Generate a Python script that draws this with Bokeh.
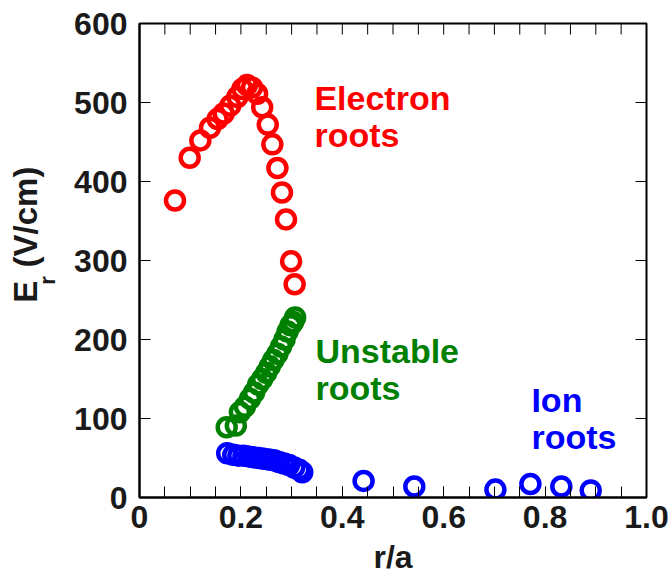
import math
from bokeh.plotting import figure
from bokeh.layouts import row
from bokeh.models import FixedTicker, Range1d
from bokeh.embed import file_html
from bokeh.resources import INLINE
from bokeh.core.properties import value

# ---- data ----
electron_x = [0.070, 0.099, 0.120, 0.139, 0.154, 0.166, 0.179, 0.193, 0.203, 0.212,
              0.222, 0.232, 0.242, 0.253, 0.262, 0.272, 0.281, 0.289, 0.299, 0.306]
electron_y = [376, 430, 452, 468, 479, 486, 496, 507, 517, 522,
              519, 511, 494, 472, 447, 417, 386, 352, 299, 270]

unstable_x = [0.172, 0.190, 0.198, 0.208, 0.218, 0.226, 0.234, 0.242, 0.250, 0.257,
              0.264, 0.272, 0.279, 0.286, 0.292, 0.298, 0.303, 0.307]
unstable_y = [89, 91, 108, 115, 125, 133, 143, 150, 158, 166,
              174, 182, 191, 200, 210, 218, 222, 228]

ion_x = [0.173, 0.185, 0.195, 0.205, 0.215, 0.225, 0.235, 0.245, 0.255, 0.265,
         0.275, 0.285, 0.295, 0.305, 0.315, 0.321,
         0.442, 0.542, 0.702, 0.771, 0.832, 0.890]
ion_y = [56, 54, 53, 53, 52, 51, 50, 49, 48, 47,
         45, 43, 41, 38, 35, 32,
         21, 14, 10, 17, 14, 9]

x_ticks = [0, 0.2, 0.4, 0.6, 0.8, 1.0]
x_minor = [i * 0.05 for i in range(21)]
y_ticks = [0, 100, 200, 300, 400, 500, 600]

labels_text = ["Electron", "roots", "Unstable", "roots", "Ion", "roots"]
labels_x = [0.345, 0.345, 0.347, 0.347, 0.773, 0.773]
labels_y = [506, 459, 186, 139, 124, 76]
labels_color = ["#ff0000", "#ff0000", "#008000", "#008000", "#0000ff", "#0000ff"]

ylabel_parts = ["E", "r", "(V/cm)"]
ylabel_sizes = ["33px", "22px", "33px"]

FONT = "Liberation Sans"
TXT = "#1a1a1a"
XMIN, XMAX, YMIN, YMAX = 0, 1, 0, 600

# ---- main plot ----
p = figure(width=612, height=577, x_range=Range1d(XMIN, XMAX), y_range=Range1d(YMIN, YMAX),
           output_backend="svg", toolbar_location=None,
           min_border_left=79, min_border_right=26, min_border_top=23,
           min_border_bottom=80)
p.grid.visible = False
p.outline_line_color = "black"
p.outline_line_width = 2

xt = FixedTicker(ticks=x_ticks, minor_ticks=x_minor)
yt = FixedTicker(ticks=y_ticks, minor_ticks=[])

for ax in p.xaxis:
    ax.ticker = xt
    ax.major_label_overrides = {0: "0", 1: "1.0"}
for ax in p.yaxis:
    ax.ticker = yt

for ax in list(p.xaxis) + list(p.yaxis):
    ax.axis_line_width = 2
    ax.axis_line_color = "black"
    ax.major_tick_in = 11
    ax.major_tick_out = 0
    ax.minor_tick_in = 11
    ax.minor_tick_out = 0
    ax.major_tick_line_color = "black"
    ax.minor_tick_line_color = "black"
    ax.major_label_text_font = FONT
    ax.major_label_text_font_style = "bold"
    ax.major_label_text_font_size = "32px"
    ax.major_label_text_color = TXT

p.xaxis.major_label_standoff = 8
p.yaxis.major_label_standoff = 12
p.xaxis.axis_label = "r/a"
p.xaxis.axis_label_text_font = FONT
p.xaxis.axis_label_text_font_style = "bold"
p.xaxis.axis_label_text_font_size = "32px"
p.xaxis.axis_label_text_color = TXT
p.xaxis.axis_label_standoff = 8

# mirrored inward ticks on the top and right frame edges (about 11 px long)
tick_dx = 11 / 507 * (XMAX - XMIN)
tick_dy = 11 / 474 * (YMAX - YMIN)
p.segment(x0=x_minor, y0=[YMAX] * len(x_minor), x1=x_minor,
          y1=[YMAX - tick_dy] * len(x_minor), line_color="black", line_width=1)
p.segment(x0=[XMAX] * len(y_ticks), y0=y_ticks, x1=[XMAX - tick_dx] * len(y_ticks),
          y1=y_ticks, line_color="black", line_width=1)

kw = dict(marker="circle", size=18, fill_color=None, line_width=4.5)
p.scatter(electron_x, electron_y, line_color="#ff0000", **kw)
p.scatter(unstable_x, unstable_y, line_color="#008000", **kw)
p.scatter(ion_x, ion_y, line_color="#0000ff", **kw)

p.text(x=labels_x, y=labels_y, text=labels_text, text_color=labels_color,
       text_font=value(FONT), text_font_style="bold", text_font_size="34px",
       text_align="left", text_baseline="alphabetic")

# ---- narrow panel holding the rotated y-axis title E_r (V/cm) ----
side = figure(width=60, height=577, x_range=Range1d(0, 60), y_range=Range1d(0, 577),
              output_backend="svg", toolbar_location=None,
              x_axis_type=None, y_axis_type=None,
              min_border_left=0, min_border_right=0, min_border_top=0, min_border_bottom=0)
side.grid.visible = False
side.outline_line_color = None

side_x = [25, 47, 25]
side_y = [237, 259, 280]
for t, sz, xx, yy in zip(ylabel_parts, ylabel_sizes, side_x, side_y):
    side.text(x=[xx], y=[yy], text=[t], angle=math.pi / 2,
              text_font=value(FONT), text_font_style="bold", text_font_size=sz,
              text_color=TXT, text_align="left", text_baseline="middle")

layout = row(side, p, spacing=0)
open("out.html", "w").write(file_html(layout, INLINE))
